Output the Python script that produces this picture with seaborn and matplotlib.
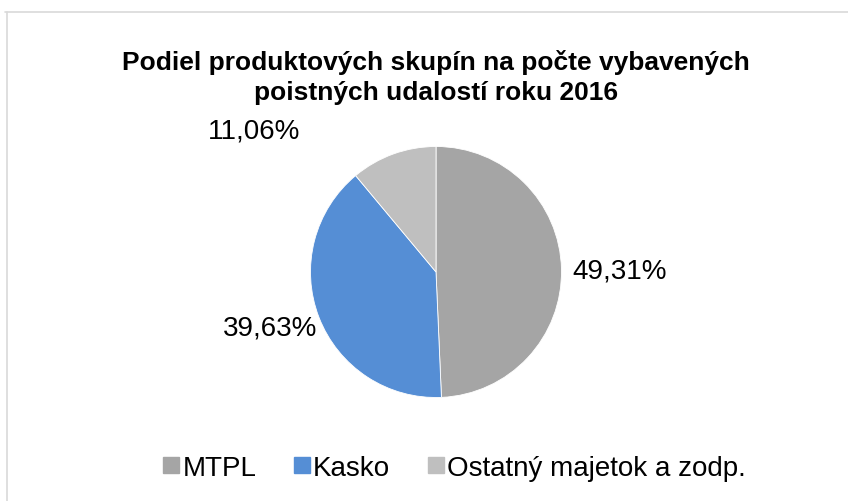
"""Pie: podiel produktových skupín na počte vybavených poistných udalostí 2016."""
import matplotlib
matplotlib.use("Agg")
import matplotlib.pyplot as plt
from matplotlib.lines import Line2D
import seaborn as sns

LABELS = ["MTPL", "Kasko", "Ostatný majetok a zodp."]
SHARES = [49.31, 39.63, 11.06]
COLORS = ["#A5A5A5", "#558ED5", "#BFBFBF"]
TITLE = "Podiel produktových skupín na počte vybavených\npoistných udalostí roku 2016"

sns.set_theme(style="white")
plt.rcParams["font.family"] = ["Liberation Sans", "DejaVu Sans"]
plt.rcParams["text.color"] = "black"

W, H = 848, 502
fig = plt.figure(figsize=(W / 100, H / 100), dpi=100)

# pie area: center (436, 273), radius ~125 px
cx, cy, r = 436, 273, 125.5
ax = fig.add_axes([(cx - r) / W, 1 - (cy + r) / H, 2 * r / W, 2 * r / H])
ax.pie(SHARES, colors=COLORS, startangle=90, counterclock=False,
       radius=1.0, wedgeprops=dict(linewidth=0.6, edgecolor="white"))
ax.set_xlim(-1, 1); ax.set_ylim(-1, 1)
ax.set_aspect("auto")
ax.axis("off")

# data labels
def lab(px, py, s):
    fig.text(px / W, 1 - py / H, s, ha="center", va="center", fontsize=20, color="black")

lab(620, 272, f"{SHARES[0]:.2f}%".replace(".", ","))
lab(270, 329, f"{SHARES[1]:.2f}%".replace(".", ","))
lab(254, 131, f"{SHARES[2]:.2f}%".replace(".", ","))

fig.text(436 / W, 1 - 77.5 / H, TITLE, ha="center", va="center", fontsize=19,
         fontweight="bold", linespacing=1.3, color="black")

handles = [plt.Line2D([], [], marker="s", linestyle="none", markersize=12,
                      markerfacecolor=c, markeredgecolor=c) for c in COLORS]
fig.legend(handles, LABELS, loc="center", bbox_to_anchor=(453 / W, 1 - 469 / H),
           ncol=3, frameon=False, fontsize=20, handletextpad=0.0,
           columnspacing=1.25, handlelength=0.8)

# chart border (top and left only visible)
fig.add_artist(Line2D([5 / W, 1], [1 - 12.5 / H] * 2, color="#D9D9D9", lw=1.2))
fig.add_artist(Line2D([7 / W] * 2, [1 - 12.5 / H, 0], color="#D9D9D9", lw=1.2))

fig.savefig("out.png", dpi=100)
